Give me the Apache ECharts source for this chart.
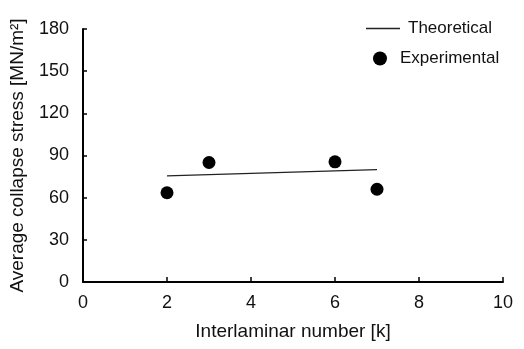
<!DOCTYPE html>
<html>
<head>
<meta charset="utf-8">
<script src="https://cdn.jsdelivr.net/npm/echarts@6/dist/echarts.min.js"></script>
<style>
  html, body { margin: 0; padding: 0; background: #fff; }
  #main { width: 524px; height: 349px; }
</style>
</head>
<body>
<div id="main"></div>
<script>
// data
var xTicks = [0, 2, 4, 6, 8, 10];
var yTicks = [0, 30, 60, 90, 120, 150, 180];
var expX = [2, 3, 6, 7];
var expY = [63.5, 85, 85.5, 66];
var theoX = [2, 7];
var theoY = [75.5, 80];

var font = 'Liberation Sans, Arial, sans-serif';

function pairs(xs, ys) {
    var out = [];
    for (var i = 0; i < xs.length; i++) out.push([xs[i], ys[i]]);
    return out;
}

var myChart = echarts.init(document.getElementById('main'));

var option = {
    animation: false,
    backgroundColor: '#fff',
    grid: { left: 83, right: 21, top: 29, bottom: 67 },
    legend: [{
        data: [{ name: 'Theoretical', icon: 'path://M0,0 L34,0 L34,1.3 L0,1.3 Z' }],
        left: 361, top: 15,
        itemWidth: 34, itemHeight: 2, itemGap: 10,
        textStyle: { fontFamily: font, fontSize: 17, color: '#111', padding: [0, 0, 0, 3] }
    }, {
        data: [{ name: 'Experimental', icon: 'circle' }],
        left: 368, top: 45,
        itemWidth: 14, itemHeight: 14,
        textStyle: { fontFamily: font, fontSize: 17, color: '#111', padding: [0, 0, 0, 8] }
    }],
    xAxis: {
        type: 'value', min: 0, max: 10, interval: 2,
        name: 'Interlaminar number [k]',
        nameLocation: 'middle', nameGap: 40,
        nameTextStyle: { fontFamily: font, fontSize: 19, color: '#111' },
        axisLine: { lineStyle: { color: '#000', width: 2 } },
        axisTick: { inside: true, length: 5, lineStyle: { color: '#000', width: 1.5 } },
        axisLabel: { fontFamily: font, fontSize: 18, color: '#111', margin: 12,
            formatter: function (v) { return xTicks.indexOf(v) >= 0 ? String(v) : ''; } },
        splitLine: { show: false }
    },
    yAxis: {
        type: 'value', min: 0, max: 180, interval: 30,
        name: 'Average collapse stress [MN/m²]',
        nameLocation: 'middle', nameGap: 56,
        nameTextStyle: { fontFamily: font, fontSize: 19, color: '#111' },
        axisLine: { show: true, lineStyle: { color: '#000', width: 2 } },
        axisTick: { show: true, inside: true, length: 4, lineStyle: { color: '#000', width: 1.5 } },
        axisLabel: { fontFamily: font, fontSize: 18, color: '#111', margin: 14,
            formatter: function (v) { return yTicks.indexOf(v) >= 0 ? String(v) : ''; } },
        splitLine: { show: false }
    },
    series: [{
        name: 'Theoretical',
        type: 'line',
        data: pairs(theoX, theoY),
        showSymbol: false,
        symbol: 'none',
        itemStyle: { color: '#222' },
        lineStyle: { color: '#222', width: 1.2 }
    }, {
        name: 'Experimental',
        type: 'scatter',
        data: pairs(expX, expY),
        symbol: 'circle',
        symbolSize: 13,
        itemStyle: { color: '#000', opacity: 1 }
    }]
};

myChart.setOption(option);
</script>
</body>
</html>
